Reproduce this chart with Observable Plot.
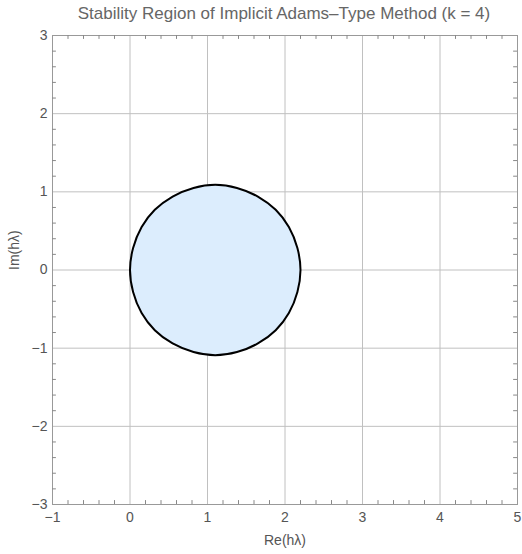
<!DOCTYPE html>
<html>
<head>
<meta charset="utf-8">
<script src="https://cdn.jsdelivr.net/npm/d3@7"></script>
<script src="https://cdn.jsdelivr.net/npm/@observablehq/plot@0.6"></script>
<style>
  body { margin: 0; background: #fff; font-family: "Liberation Sans", Arial, sans-serif; }
  #wrap { width: 522px; }
  #title { height: 26px; line-height: 28px; text-align: center; padding-left: 46px;
           font-size: 17px; color: #666; white-space: nowrap; }
</style>
</head>
<body>
<div id="wrap">
  <div id="title">Stability Region of Implicit Adams–Type Method (k = 4)</div>
  <div id="chart"></div>
</div>
<script>
// Boundary of the stability region (Re, Im of hλ), traced counter-clockwise
const boundaryRe = [2.20, 2.16, 2.05, 1.88, 1.65, 1.38, 1.10, 0.82, 0.55, 0.32, 0.15, 0.04,
                    0.00, 0.04, 0.15, 0.32, 0.55, 0.82, 1.10, 1.38, 1.65, 1.88, 2.05, 2.16];
const boundaryIm = [0.00, 0.28, 0.55, 0.77, 0.94, 1.05, 1.09, 1.05, 0.94, 0.77, 0.55, 0.28,
                    0.00, -0.28, -0.55, -0.77, -0.94, -1.05, -1.09, -1.05, -0.94, -0.77, -0.55, -0.28];

// Axis ticks
const xTicks = [-1, 0, 1, 2, 3, 4, 5];
const yTicks = [-3, -2, -1, 0, 1, 2, 3];
const xMinor = d3.range(-1, 5.001, 0.2).map(v => +v.toFixed(1)).filter(v => !xTicks.includes(v));
const yMinor = d3.range(-3, 3.001, 0.2).map(v => +v.toFixed(1)).filter(v => !yTicks.includes(v));

const boundary = boundaryRe.map((re, i) => ({re, im: boundaryIm[i]}));

const xDom = [-1, 5], yDom = [-3, 3];
const tl = 0.05; // minor tick length in data units
const tickColor = "#888";
const fmt = d => d < 0 ? "\u2212" + Math.abs(d) : String(d);

const chart = Plot.plot({
  width: 522,
  height: 528,
  marginTop: 9,
  marginBottom: 50,
  marginLeft: 52,
  marginRight: 5,
  style: {fontFamily: "Liberation Sans, Arial, sans-serif", fontSize: "14px", color: "#555", background: "#fff"},
  x: {domain: xDom, ticks: xTicks, tickSize: 0, tickPadding: 8, label: null, tickFormat: fmt},
  y: {domain: yDom, ticks: yTicks, tickSize: 0, tickPadding: 5, label: null, tickFormat: fmt},
  marks: [
    // grid
    Plot.ruleX(xTicks, {stroke: "#c0c0c0", strokeWidth: 1}),
    Plot.ruleY(yTicks, {stroke: "#c0c0c0", strokeWidth: 1}),
    // stability region
    Plot.line(boundary, {x: "re", y: "im", curve: "catmull-rom-closed",
      fill: "#dcedfd", stroke: "#000", strokeWidth: 2}),
    // frame
    Plot.frame({stroke: "#999", strokeWidth: 1}),
    // minor ticks on all four sides (pointing inward)
    Plot.ruleX(xMinor, {y1: yDom[0], y2: yDom[0] + tl, stroke: tickColor}),
    Plot.ruleX(xMinor, {y1: yDom[1], y2: yDom[1] - tl, stroke: tickColor}),
    Plot.ruleY(yMinor, {x1: xDom[0], x2: xDom[0] + tl, stroke: tickColor}),
    Plot.ruleY(yMinor, {x1: xDom[1], x2: xDom[1] - tl, stroke: tickColor}),
    // axis titles
    Plot.text(["Re(h\u03bb)"], {frameAnchor: "bottom", dy: 40, fontSize: 14, fill: "#555"}),
    Plot.text(["Im(h\u03bb)"], {frameAnchor: "left", dx: -38, rotate: -90, fontSize: 14, fill: "#555"})
  ]
});
document.getElementById("chart").appendChild(chart);
</script>
</body>
</html>
